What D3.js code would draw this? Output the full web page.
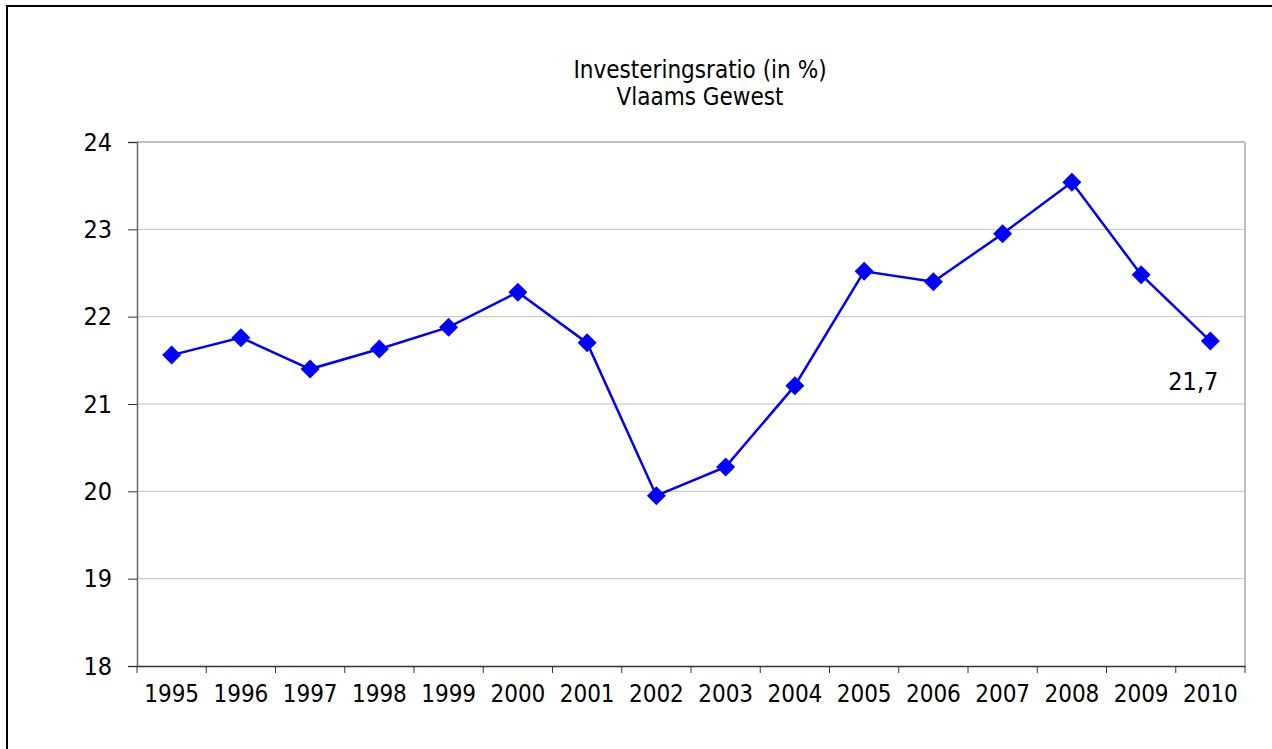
<!DOCTYPE html>
<html><head><meta charset="utf-8">
<script src="https://cdn.jsdelivr.net/npm/d3@7/dist/d3.min.js"></script>
<style>body{margin:0;background:#fff;}svg{display:block;}</style>
</head><body>
<script>
const years = ["1995","1996","1997","1998","1999","2000","2001","2002","2003","2004","2005","2006","2007","2008","2009","2010"];
const values = [21.56,21.76,21.40,21.63,21.88,22.28,21.70,19.95,20.28,21.21,22.52,22.40,22.95,23.54,22.48,21.72];
const yTicks = [18,19,20,21,22,23,24];
const titleLines = ["Investeringsratio (in %)","Vlaams Gewest"];
const lastLabel = "21,7";

const W=1272,H=749;
const font="'DejaVu Sans Condensed','DejaVu Sans',sans-serif";
const svg=d3.select("body").append("svg").attr("width",W).attr("height",H);
svg.append("rect").attr("width",W).attr("height",H).attr("fill","#fff");
svg.append("rect").attr("x",7).attr("y",6).attr("width",W+20).attr("height",H+20)
  .attr("fill","none").attr("stroke","#000").attr("stroke-width",2);

const L=137,R=1245,T=142,B=666;
const x=d3.scaleBand().domain(years).range([L,R]).padding(0);
const y=d3.scaleLinear().domain([18,24]).range([B,T]);

// gridlines
svg.append("g").selectAll("line").data(yTicks.filter(d=>d>18)).join("line")
  .attr("x1",L).attr("x2",R).attr("y1",d=>y(d)).attr("y2",d=>y(d))
  .attr("stroke","#c0c0c0").attr("stroke-width",d=>d===24?2:1);
// right border
svg.append("line").attr("x1",R).attr("x2",R).attr("y1",T).attr("y2",B)
  .attr("stroke","#c0c0c0").attr("stroke-width",2);

// y axis
const ya=svg.append("g").attr("transform",`translate(${L},0)`)
  .call(d3.axisLeft(y).tickValues(yTicks).tickSize(9).tickPadding(16).tickFormat(d3.format("d")));
ya.select(".domain").attr("stroke","#666").attr("stroke-width",1.5);
ya.selectAll(".tick line").attr("stroke","#333");
ya.selectAll("text").attr("font-family",font).attr("font-size",25).attr("fill","#000");

// x axis
const xa=svg.append("g").attr("transform",`translate(0,${B})`)
  .call(d3.axisBottom(x).tickSize(0).tickPadding(19));
xa.select(".domain").attr("stroke","#333").attr("stroke-width",1.5);
xa.selectAll("text").attr("font-family",font).attr("font-size",24).attr("fill","#000");
// category boundary ticks
const bounds=years.map(d=>x(d)).concat([R]);
svg.append("g").selectAll("line").data(bounds).join("line")
  .attr("x1",d=>d).attr("x2",d=>d).attr("y1",B).attr("y2",B+7)
  .attr("stroke","#333").attr("stroke-width",1);

// line
const cx=d=>x(d)+x.bandwidth()/2;
svg.append("path").datum(values.map((v,i)=>[years[i],v]))
  .attr("d",d3.line().x(d=>cx(d[0])).y(d=>y(d[1])))
  .attr("fill","none").attr("stroke","#0000ff").attr("stroke-width",2.5);
svg.append("g").selectAll("path").data(values.map((v,i)=>[years[i],v])).join("path")
  .attr("transform",d=>`translate(${cx(d[0])},${y(d[1])})`)
  .attr("d","M0,-9.5L9.5,0L0,9.5L-9.5,0Z").attr("fill","#0000ff");

// data label
const li=years.length-1;
svg.append("text").attr("x",cx(years[li])+8).attr("y",y(values[li])+49)
  .attr("text-anchor","end").attr("font-family",font).attr("font-size",25).text(lastLabel);

// title
svg.append("g").selectAll("text").data(titleLines).join("text")
  .attr("x",700).attr("y",(d,i)=>78+i*27).attr("text-anchor","middle")
  .attr("font-family",font).attr("font-size",24).text(d=>d);
</script>
</body></html>
